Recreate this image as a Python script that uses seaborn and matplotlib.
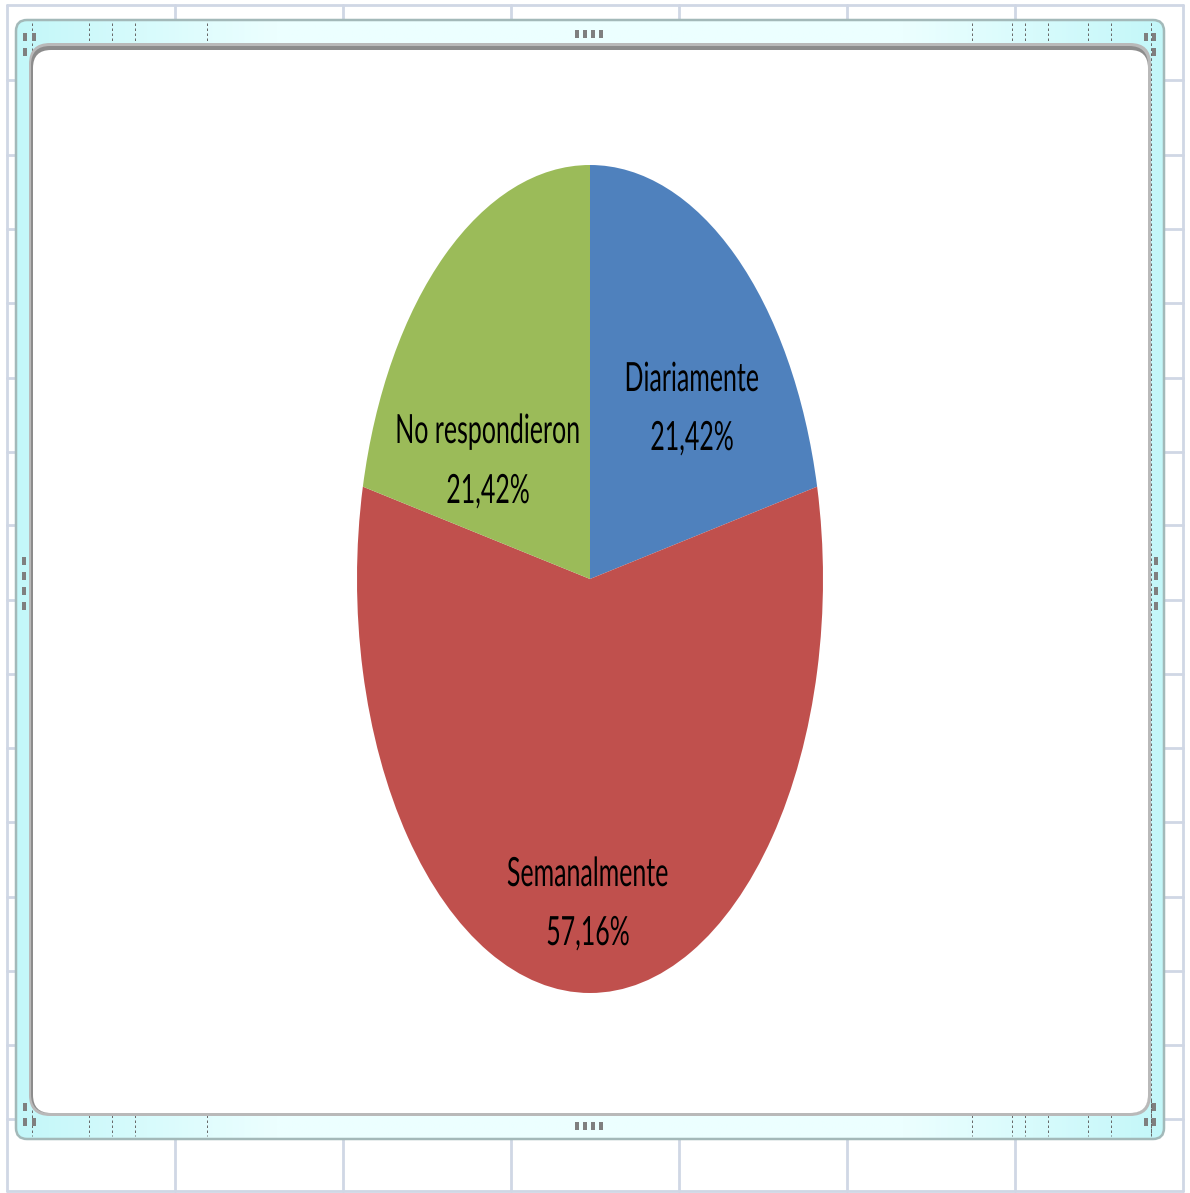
import matplotlib
matplotlib.use("Agg")
import matplotlib.pyplot as plt
import numpy as np
import seaborn as sns
from matplotlib.patches import FancyBboxPatch, Rectangle
from matplotlib.patheffects import AbstractPathEffect
from matplotlib.transforms import Affine2D
from matplotlib.lines import Line2D

# ---- data -------------------------------------------------------------
categories = ["Diariamente", "Semanalmente", "No respondieron"]
shares = [21.42, 57.16, 21.42]
slice_colors = ["#4f81bd", "#c0504d", "#9bbb59"]

# ---- layout (pixels) ----------------------------------------------------
W, H = 1190, 1193
pie_cx, pie_cy, pie_rx, pie_ry = 590, 579, 233, 414
# (x centre, baseline of name, baseline of percentage) per category
label_px = [(692, 391, 450), (588, 886, 945), (488, 443, 503)]

grid_x = [7, 175, 343, 511, 679, 847, 1015, 1183]
grid_y = [5, 80, 155, 229, 303, 378, 452, 525, 600, 674, 748, 822, 897,
          971, 1045, 1119, 1191]
dash_x = [32, 89, 112, 135, 207, 972, 1012, 1025, 1048, 1088, 1111, 1151]


class Stretch(AbstractPathEffect):
    """Scale glyph outlines about the line's centre / baseline."""

    def __init__(self, sx=1.0, sy=1.0):
        super().__init__()
        self.sx, self.sy = sx, sy

    def draw_path(self, renderer, gc, tpath, affine, rgbFace=None):
        ext = tpath.get_extents()
        cx = (ext.x0 + ext.x1) / 2
        pre = Affine2D().translate(-cx, 0).scale(self.sx, self.sy).translate(cx, 0)
        renderer.draw_path(gc, tpath, pre + affine, rgbFace)


sns.set_theme(style="white")
plt.rcParams["font.family"] = ["Lato", "DejaVu Sans"]

fig = plt.figure(figsize=(W / 100, H / 100), dpi=100)
fig.patch.set_facecolor("white")

# background: worksheet grid + chart frame, in pixel coordinates
bg = fig.add_axes([0, 0, 1, 1], zorder=0)
bg.set_xlim(0, W)
bg.set_ylim(H, 0)
bg.axis("off")

px = 0.72  # one pixel in points
grid_c = "#d0d7e5"
for x in grid_x:
    bg.add_line(Line2D([x, x], [5, 1191], color=grid_c, lw=2.8 * px, zorder=1))
for y in grid_y:
    bg.add_line(Line2D([7, 1183], [y, y], color=grid_c, lw=2.8 * px, zorder=1))

# outer cyan frame with gradient
outer = FancyBboxPatch((16, 20), 1148, 1119,
                       boxstyle="round,pad=0,rounding_size=11",
                       facecolor="none", edgecolor="#a3b9b9", lw=2.5 * px, zorder=3)
bg.add_patch(outer)
xs = np.linspace(16, 1164, 600)
t = np.clip(np.minimum(xs - 16, 1164 - xs) / 260.0, 0, 1)
c0 = np.array([0xc3, 0xf7, 0xf9]) / 255
c1 = np.array([0xec, 0xff, 0xff]) / 255
row = c0[None, :] * (1 - t[:, None]) + c1[None, :] * t[:, None]
grad = np.repeat(row[None, :, :], 4, axis=0)
im = bg.imshow(grad, extent=(16, 1164, 1139, 20), aspect="auto", zorder=2,
               interpolation="bilinear")
clip = FancyBboxPatch((16, 20), 1148, 1119,
                      boxstyle="round,pad=0,rounding_size=11",
                      facecolor="none", edgecolor="none", transform=bg.transData)
im.set_clip_path(clip)

# dashed guides across the frame bands
for x in dash_x:
    for y0, y1 in [(23, 60), (1100, 1136)]:
        bg.add_line(Line2D([x, x], [y0, y1], color="#6a6a6a", lw=1 * px,
                           ls=(0, (2.5, 2.5)), zorder=4))
bg.add_line(Line2D([1151, 1151], [23, 1136], color="#6a6a6a", lw=1 * px,
                   ls=(0, (2.5, 2.5)), zorder=4))

# inner white panel with shaded border
bg.add_patch(FancyBboxPatch((29, 43), 1122, 1073,
                            boxstyle="round,pad=0,rounding_size=21",
                            facecolor="#b9b9b9", edgecolor="none", zorder=5))
bg.add_patch(FancyBboxPatch((31, 46), 1117, 1067,
                            boxstyle="round,pad=0,rounding_size=19",
                            facecolor="#8c8c8c", edgecolor="none", zorder=6))
bg.add_patch(FancyBboxPatch((33, 50), 1115, 1063,
                            boxstyle="round,pad=0,rounding_size=18",
                            facecolor="white", edgecolor="none", zorder=7))

# sizing handles
handle_c = "#7f7f7f"
handles = []
for x in [575, 583, 591, 599]:
    handles += [(x, 30), (x, 1122)]
for y in [557, 572, 587, 602]:
    handles += [(22, y), (1154, y)]
handles += [(23, 33), (32, 33), (23, 48),
            (1144, 33), (1152, 33), (1152, 48),
            (23, 1103), (23, 1118), (32, 1118),
            (1152, 1103), (1144, 1118), (1152, 1118)]
for (x, y) in handles:
    bg.add_patch(Rectangle((x, y), 4, 8, facecolor=handle_c, edgecolor="none",
                           zorder=8))

# pie: axes stretched so the disc becomes an ellipse
ax = fig.add_axes([(pie_cx - pie_rx) / W, (H - (pie_cy + pie_ry)) / H,
                   2 * pie_rx / W, 2 * pie_ry / H], zorder=2)
ax.patch.set_alpha(0)
palette = sns.color_palette(slice_colors)
ax.pie(shares, colors=palette, startangle=90, counterclock=False, radius=1,
       wedgeprops=dict(linewidth=0, edgecolor="none", antialiased=True))
ax.set_aspect("auto")
ax.set_xlim(-1, 1)
ax.set_ylim(-1, 1)
ax.axis("off")

fx = [Stretch(0.96, 1.55)]
for name, val, (lx, yb1, yb2) in zip(categories, shares, label_px):
    pct = f"{val:.2f}".replace(".", ",") + "%"
    for s, yb in [(name, yb1), (pct, yb2)]:
        ax.text(lx, yb, s, transform=bg.transData, ha="center", va="baseline",
                fontsize=18.7, color="black", path_effects=fx, zorder=10)

fig.savefig("out.png", dpi=100, facecolor="white")
